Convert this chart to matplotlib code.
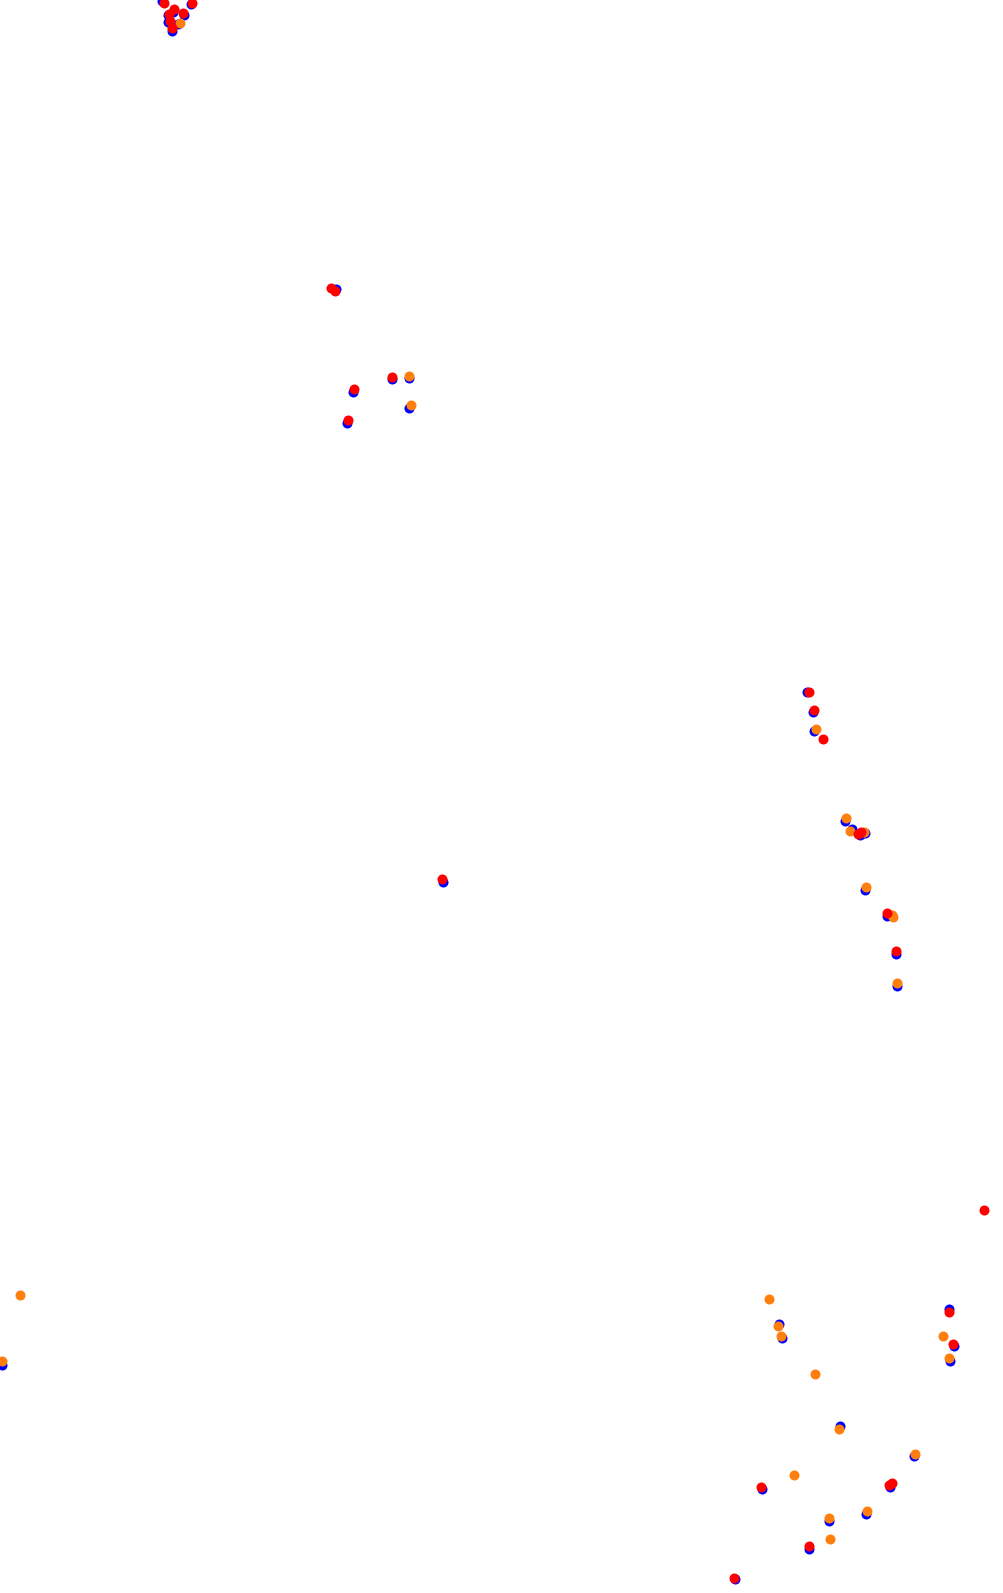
import numpy as np
import matplotlib
matplotlib.use('Agg')
import matplotlib.pyplot as plt

# ---------- Dados (coordenadas) ----------

blue_x = [162, 173, 168, 184, 191, 168, 178, 172, 336, 392, 409, 353, 409, 347,
          807, 813, 814, 845, 852, 865, 860, 865, 887, 896, 897, 443, 779, 782,
          949, 954, 950, 840, 914, 762, 890, 866, 829, 809, 735, 2]
blue_y = [1, 12, 15, 15, 4, 22, 24, 31, 289, 379, 378, 392, 408, 423,
          692, 712, 731, 821, 829, 833, 835, 890, 916, 954, 986, 882, 1324, 1338,
          1309, 1346, 1361, 1426, 1456, 1489, 1487, 1514, 1521, 1549, 1579, 1365]

orange_x = [180, 409, 411, 816, 846, 850, 864, 866, 892, 893, 897, 769, 778, 781,
            815, 943, 949, 839, 915, 794, 867, 829, 830, 20, 2]
orange_y = [23, 376, 405, 729, 818, 831, 832, 887, 915, 917, 983, 1299, 1326, 1336,
            1374, 1336, 1358, 1429, 1454, 1475, 1511, 1518, 1539, 1295, 1361]

red_x = [164, 174, 169, 183, 192, 170, 172, 331, 335, 392, 354, 348, 809, 814,
         823, 861, 858, 887, 896, 442, 984, 949, 953, 761, 889, 892, 809, 734]
red_y = [3, 9, 14, 13, 3, 21, 28, 288, 291, 377, 389, 420, 692, 710,
         739, 832, 834, 913, 951, 879, 1210, 1312, 1344, 1487, 1485, 1483, 1546, 1578]

# ---------- Plotagem ----------

fig = plt.figure(figsize=(10.04, 15.93), dpi=100)
ax = fig.add_axes([0, 0, 1, 1])

ax.scatter(blue_x, blue_y, s=52, color='#0000ff', linewidths=0, zorder=1)
ax.scatter(orange_x, orange_y, s=52, color='#ff7f0e', linewidths=0, zorder=2)
ax.scatter(red_x, red_y, s=52, color='#ff0000', linewidths=0, zorder=3)

ax.set_xlim(0, 1004)
ax.set_ylim(1593, 0)
ax.axis('off')

fig.savefig('out.png', dpi=100)
